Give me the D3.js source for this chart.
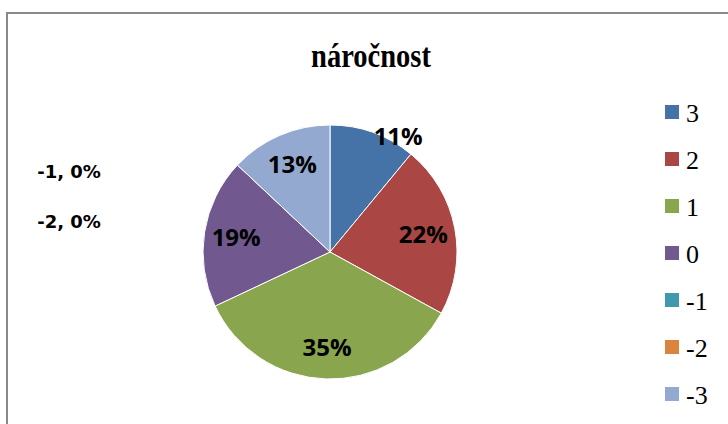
<!DOCTYPE html>
<html>
<head>
<meta charset="utf-8">
<script src="https://cdn.jsdelivr.net/npm/d3@7"></script>
<style>
  html, body { margin: 0; padding: 0; background: #fff; }
  svg { display: block; }
</style>
</head>
<body>
<div id="root"></div>
<script>
// ——— données
const categories = ["3", "2", "1", "0", "-1", "-2", "-3"];
const values = [11, 22, 35, 19, 0, 0, 13];
const colors = ["#4572A7", "#AA4643", "#89A54E", "#71588F", "#4198AF", "#DB843D", "#93A9CF"];
const title = "náročnost";

const W = 728, H = 424;
const svg = d3.select("#root").append("svg").attr("width", W).attr("height", H);

// cadre du graphique (bords droit/bas hors image)
svg.append("rect")
  .attr("x", 7).attr("y", 13).attr("width", 800).attr("height", 500)
  .attr("fill", "#fff").attr("stroke", "#898989").attr("stroke-width", 2);

svg.append("text")
  .attr("x", 371).attr("y", 67)
  .attr("text-anchor", "middle")
  .attr("transform", "translate(371,67) scale(0.92,1.12) translate(-371,-67)")
  .style("font-family", "'Liberation Serif', 'Times New Roman', serif")
  .style("font-weight", "bold").style("font-size", "31px")
  .text(title);

// ——— camembert
const cx = 330, cy = 252, r = 127;
const items = categories.map((c, i) => ({ cat: c, value: values[i], color: colors[i] }));

const pie = d3.pie().value(d => d.value).sort(null);
const arcs = pie(items);
const arc = d3.arc().innerRadius(0).outerRadius(r);
const labelArc = d3.arc().innerRadius(95).outerRadius(95);
// décalage "best fit" d'Excel pour la petite part
const nudge = { "3": [36, -26] };

const g = svg.append("g").attr("transform", `translate(${cx},${cy})`);

g.selectAll("path")
  .data(arcs.filter(d => d.data.value > 0))
  .enter().append("path")
  .attr("d", arc)
  .attr("fill", d => d.data.color)
  .attr("stroke", "#fff").attr("stroke-width", 1);

g.selectAll(".lbl")
  .data(arcs.filter(d => d.data.value > 0))
  .enter().append("text")
  .attr("class", "lbl")
  .attr("transform", d => {
    const [x, y] = labelArc.centroid(d);
    const n = nudge[d.data.cat] || [0, 0];
    return `translate(${x + n[0]},${y + n[1]})`;
  })
  .attr("text-anchor", "middle")
  .attr("dy", "0.36em")
  .style("font-family", "'Open Sans', sans-serif")
  .style("font-weight", "700").style("font-size", "24px")
  .text(d => d.data.value + "%");

// parts nulles : étiquettes à gauche
const zeros = items.filter(d => d.value === 0);
svg.selectAll(".zero")
  .data(zeros)
  .enter().append("text")
  .attr("class", "zero")
  .attr("x", 69)
  .attr("y", (d, i) => 178 + i * 50)
  .attr("text-anchor", "middle")
  .style("font-family", "'DejaVu Sans', sans-serif")
  .style("font-weight", "bold").style("font-size", "18px")
  .text(d => `${d.cat}, ${d.value}%`);

// ——— légende
const leg = svg.append("g").attr("transform", "translate(665,105)");
const row = leg.selectAll("g")
  .data(items)
  .enter().append("g")
  .attr("transform", (d, i) => `translate(0,${i * 47})`);

row.append("rect")
  .attr("width", 14).attr("height", 14)
  .attr("fill", d => d.color);

row.append("text")
  .attr("x", 21).attr("y", 17)
  .style("font-family", "'Liberation Serif', 'Times New Roman', serif")
  .style("font-size", "26px")
  .text(d => d.cat);
</script>
</body>
</html>
